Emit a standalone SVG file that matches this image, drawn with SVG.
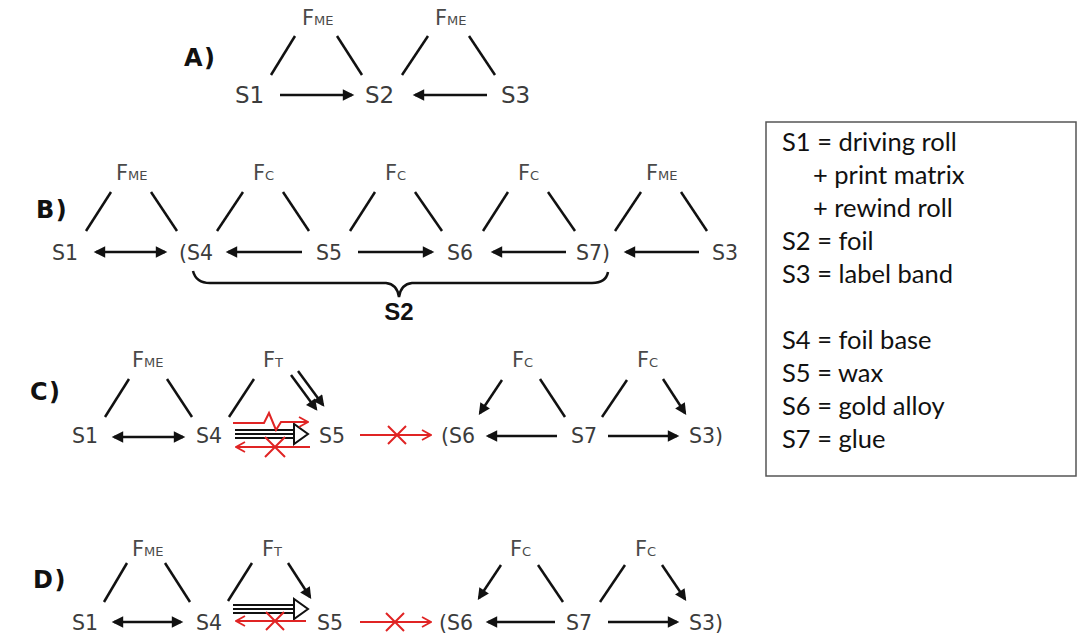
<svg xmlns="http://www.w3.org/2000/svg" width="1079" height="637" viewBox="0 0 1079 637">
<style>
.s{font-family:"DejaVu Sans",Verdana,sans-serif;font-size:20.5px;fill:#3c3c3c}
.sa{font-family:"DejaVu Sans",Verdana,sans-serif;font-size:23px;fill:#3c3c3c}
.f{font-family:"DejaVu Sans",Verdana,sans-serif;font-size:21px;fill:#4a4a4a}
.sm{font-size:13px}
.lab{font-family:"DejaVu Sans",Verdana,sans-serif;font-size:24px;font-weight:bold;fill:#111;letter-spacing:1.5px}
.leg{font-family:Lato,"Liberation Sans",sans-serif;font-size:25.5px;fill:#111}
.ln{stroke:#111;stroke-width:2.5;fill:none}
.ar{stroke:#111;stroke-width:2.5;fill:none;marker-end:url(#ah)}
.dar{stroke:#111;stroke-width:2.5;fill:none;marker-start:url(#ah);marker-end:url(#ah)}
.rd{stroke:#e02424;stroke-width:2;fill:none}
.rar{stroke:#e02424;stroke-width:2;fill:none;marker-end:url(#rh)}
.tl{stroke:#111;stroke-width:1.8;fill:none}
</style>
<defs>
<marker id="ah" viewBox="0 0 10 10" refX="8" refY="5" markerWidth="5.2" markerHeight="4.6" orient="auto-start-reverse" markerUnits="strokeWidth">
<path d="M0,0 L10,5 L0,10 z" fill="#111"/>
</marker>
<marker id="rh" viewBox="-1 -1 12 12" refX="10" refY="5" markerWidth="12" markerHeight="12" orient="auto-start-reverse" markerUnits="userSpaceOnUse">
<path d="M1,0 L10,5 L1,10" fill="none" stroke="#e02424" stroke-width="1.8"/>
</marker>
</defs>

<g id="labels">
<text class="lab" x="184" y="66">A)</text>
<text class="lab" x="36" y="218">B)</text>
<text class="lab" x="30" y="400">C)</text>
<text class="lab" x="33" y="588">D)</text>
</g>

<!-- A -->
<g id="A-F1"><text class="f" x="302" y="25">F<tspan class="sm">ME</tspan></text></g>
<g id="A-F2"><text class="f" x="435" y="25">F<tspan class="sm">ME</tspan></text></g>
<g id="A-S1"><text class="sa" x="235" y="103">S1</text></g>
<g id="A-S2"><text class="sa" x="365" y="103">S2</text></g>
<g id="A-S3"><text class="sa" x="501" y="103">S3</text></g>

<!-- B -->
<g id="B-F1"><text class="f" x="116" y="180">F<tspan class="sm">ME</tspan></text></g>
<g id="B-F2"><text class="f" x="253" y="180">F<tspan class="sm">C</tspan></text></g>
<g id="B-F3"><text class="f" x="385" y="180">F<tspan class="sm">C</tspan></text></g>
<g id="B-F4"><text class="f" x="518" y="180">F<tspan class="sm">C</tspan></text></g>
<g id="B-F5"><text class="f" x="646" y="180">F<tspan class="sm">ME</tspan></text></g>
<g id="B-S1"><text class="s" x="52" y="260">S1</text></g>
<g id="B-S4"><text class="s" x="179" y="260">(S4</text></g>
<g id="B-S5"><text class="s" x="316" y="260">S5</text></g>
<g id="B-S6"><text class="s" x="447" y="260">S6</text></g>
<g id="B-S7"><text class="s" x="576" y="260">S7)</text></g>
<g id="B-S3"><text class="s" x="712" y="260">S3</text></g>
<g id="B-S2"><text x="399" y="320" text-anchor="middle" style="font-family:'Liberation Sans',Arial,sans-serif;font-size:24px;font-weight:bold;fill:#111">S2</text></g>

<!-- C -->
<g id="C-F1"><text class="f" x="132" y="367">F<tspan class="sm">ME</tspan></text></g>
<g id="C-F2"><text class="f" x="263" y="367">F<tspan class="sm">T</tspan></text></g>
<g id="C-F3"><text class="f" x="512" y="367">F<tspan class="sm">C</tspan></text></g>
<g id="C-F4"><text class="f" x="637" y="367">F<tspan class="sm">C</tspan></text></g>
<g id="C-S1"><text class="s" x="72" y="443">S1</text></g>
<g id="C-S4"><text class="s" x="196" y="443">S4</text></g>
<g id="C-S5"><text class="s" x="319" y="443">S5</text></g>
<g id="C-S6"><text class="s" x="441" y="443">(S6</text></g>
<g id="C-S7"><text class="s" x="571" y="443">S7</text></g>
<g id="C-S3"><text class="s" x="689" y="443">S3)</text></g>

<!-- D -->
<g id="D-F1"><text class="f" x="132" y="556">F<tspan class="sm">ME</tspan></text></g>
<g id="D-F2"><text class="f" x="262" y="556">F<tspan class="sm">T</tspan></text></g>
<g id="D-F3"><text class="f" x="510" y="556">F<tspan class="sm">C</tspan></text></g>
<g id="D-F4"><text class="f" x="635" y="556">F<tspan class="sm">C</tspan></text></g>
<g id="D-S1"><text class="s" x="72" y="630">S1</text></g>
<g id="D-S4"><text class="s" x="196" y="630">S4</text></g>
<g id="D-S5"><text class="s" x="317" y="630">S5</text></g>
<g id="D-S6"><text class="s" x="439" y="630">(S6</text></g>
<g id="D-S7"><text class="s" x="566" y="630">S7</text></g>
<g id="D-S3"><text class="s" x="689" y="630">S3)</text></g>

<!-- Legend -->
<g id="legend">
<rect x="766" y="122" width="310" height="354" fill="none" stroke="#555" stroke-width="1.5"/>
<text class="leg" x="782" y="151">S1 = driving roll</text>
<text class="leg" x="813" y="184">+ print matrix</text>
<text class="leg" x="813" y="217">+ rewind roll</text>
<text class="leg" x="782" y="250">S2 = foil</text>
<text class="leg" x="782" y="283">S3 = label band</text>
<text class="leg" x="782" y="349">S4 = foil base</text>
<text class="leg" x="782" y="382">S5 = wax</text>
<text class="leg" x="782" y="415">S6 = gold alloy</text>
<text class="leg" x="782" y="448">S7 = glue</text>
</g>

<g id="connectors">
<!-- A -->
<line class="ln" x1="295" y1="36" x2="271" y2="75"/>
<line class="ln" x1="337" y1="36" x2="362" y2="75"/>
<line class="ln" x1="428" y1="36" x2="402" y2="75"/>
<line class="ln" x1="469" y1="36" x2="495" y2="75"/>
<line class="ar" x1="280" y1="95" x2="352" y2="95"/>
<line class="ar" x1="487" y1="95" x2="415" y2="95"/>
<!-- B -->
<line class="ln" x1="111" y1="192" x2="86" y2="231"/>
<line class="ln" x1="151" y1="192" x2="177" y2="231"/>
<line class="ln" x1="243" y1="192" x2="217" y2="231"/>
<line class="ln" x1="283" y1="192" x2="309" y2="231"/>
<line class="ln" x1="375" y1="192" x2="350" y2="231"/>
<line class="ln" x1="415" y1="192" x2="442" y2="231"/>
<line class="ln" x1="508" y1="192" x2="483" y2="231"/>
<line class="ln" x1="548" y1="192" x2="575" y2="231"/>
<line class="ln" x1="641" y1="192" x2="615" y2="231"/>
<line class="ln" x1="681" y1="192" x2="707" y2="231"/>
<line class="dar" x1="96" y1="252" x2="165" y2="252"/>
<line class="ar" x1="302" y1="252" x2="228" y2="252"/>
<line class="ar" x1="358" y1="252" x2="432" y2="252"/>
<line class="ar" x1="566" y1="252" x2="493" y2="252"/>
<line class="ar" x1="699" y1="252" x2="626" y2="252"/>
<path class="ln" d="M193,271 Q196,283 210,283 L386,283 Q397,284 399,297 Q401,284 412,283 L592,283 Q606,283 608,272"/>
<!-- C -->
<line class="ln" x1="129" y1="379" x2="105" y2="417"/>
<line class="ln" x1="167" y1="379" x2="192" y2="417"/>
<line class="ln" x1="254" y1="379" x2="229" y2="417"/>
<line class="ar" x1="291" y1="375" x2="316" y2="409"/>
<line class="ar" x1="298" y1="371" x2="323" y2="405"/>
<line class="dar" x1="114" y1="437" x2="183" y2="437"/>
<line class="tl" x1="235" y1="430" x2="296" y2="430"/>
<line class="tl" x1="235" y1="434" x2="296" y2="434"/>
<line class="tl" x1="235" y1="438" x2="296" y2="438"/>
<polygon points="294,424 294,444 308,434" fill="#fff" stroke="#111" stroke-width="2"/>
<path class="rar" d="M233,423 L264,423 L269,413 L276,430 L281,422 L308,422"/>
<line class="rar" x1="310" y1="447" x2="236" y2="447"/>
<path class="rd" d="M265,437 L285,457 M285,437 L265,457"/>
<line class="rar" x1="360" y1="435" x2="431" y2="435"/>
<path class="rd" d="M388,426 L406,444 M406,426 L388,444"/>
<line class="ar" x1="502" y1="380" x2="480" y2="413"/>
<line class="ln" x1="540" y1="379" x2="565" y2="417"/>
<line class="ln" x1="627" y1="380" x2="602" y2="417"/>
<line class="ar" x1="663" y1="379" x2="685" y2="413"/>
<line class="ar" x1="557" y1="436" x2="488" y2="436"/>
<line class="ar" x1="608" y1="436" x2="677" y2="436"/>
<!-- D -->
<line class="ln" x1="127" y1="563" x2="104" y2="602"/>
<line class="ln" x1="165" y1="563" x2="190" y2="602"/>
<line class="ln" x1="252" y1="563" x2="228" y2="601"/>
<line class="ar" x1="288" y1="563" x2="310" y2="597"/>
<line class="dar" x1="114" y1="622" x2="181" y2="622"/>
<line class="tl" x1="233" y1="605" x2="296" y2="605"/>
<line class="tl" x1="233" y1="609" x2="296" y2="609"/>
<line class="tl" x1="233" y1="613" x2="296" y2="613"/>
<polygon points="294,599 294,619 308,609" fill="#fff" stroke="#111" stroke-width="2"/>
<line class="rar" x1="306" y1="621" x2="236" y2="621"/>
<path class="rd" d="M266,612 L284,630 M284,612 L266,630"/>
<line class="rar" x1="360" y1="622" x2="431" y2="622"/>
<path class="rd" d="M386,613 L404,631 M404,613 L386,631"/>
<line class="ar" x1="501" y1="565" x2="479" y2="598"/>
<line class="ln" x1="538" y1="565" x2="563" y2="602"/>
<line class="ln" x1="625" y1="565" x2="600" y2="602"/>
<line class="ar" x1="662" y1="565" x2="685" y2="599"/>
<line class="ar" x1="555" y1="622" x2="488" y2="622"/>
<line class="ar" x1="608" y1="622" x2="677" y2="622"/>
</g>
</svg>
